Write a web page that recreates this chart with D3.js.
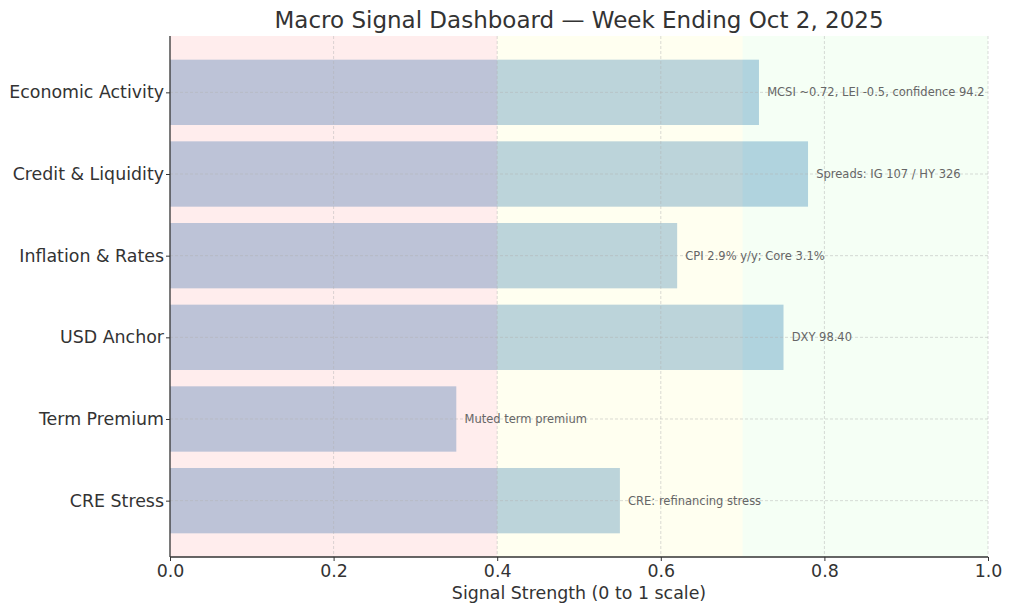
<!DOCTYPE html>
<html><head><meta charset="utf-8">
<script src="https://cdn.jsdelivr.net/npm/d3@7"></script>
<style>body{margin:0;background:#fff}svg{display:block;font-family:"DejaVu Sans",sans-serif}</style>
</head><body><svg id="c" width="1024" height="613"></svg>
<script>
const categories = ["Economic Activity","Credit & Liquidity","Inflation & Rates","USD Anchor","Term Premium","CRE Stress"];
const values = [0.72, 0.78, 0.62, 0.75, 0.35, 0.55];
const notes = ["MCSI ~0.72, LEI -0.5, confidence 94.2","Spreads: IG 107 / HY 326","CPI 2.9% y/y; Core 3.1%","DXY 98.40","Muted term premium","CRE: refinancing stress"];
const xTicks = [0,0.2,0.4,0.6,0.8,1.0];
const bandStarts = [0, 0.4, 0.7];
const bandEnds = [0.4, 0.7, 1.0];
const bandColors = ["#ff0000","#ffff00","#00ff00"];
const bandAlpha = [0.07, 0.06, 0.04];

const svg = d3.select("#c");
const L=170, R=988, T=36, B=557;
const x = d3.scaleLinear().domain([0,1]).range([L,R]);
const y = d3.scaleLinear().domain([-0.69, 5.69]).range([T,B]);
const barH = y(0.8)-y(0);

// bars
svg.append("g").selectAll("rect").data(values).join("rect")
  .attr("x", x(0)).attr("width", d=>x(d)-x(0))
  .attr("y",(d,i)=>y(i)-barH/2).attr("height",barH)
  .attr("fill","#b8d2e8");

// bands on top
svg.append("g").selectAll("rect").data(bandStarts).join("rect")
  .attr("x",d=>x(d)).attr("width",(d,i)=>x(bandEnds[i])-x(d))
  .attr("y",T).attr("height",B-T)
  .attr("fill",(d,i)=>bandColors[i]).attr("fill-opacity",(d,i)=>bandAlpha[i]);

// grid
const g = svg.append("g").attr("stroke","#b0b0b0").attr("stroke-dasharray","3,2").attr("stroke-width",0.8).attr("stroke-opacity",0.6);
g.selectAll(".vx").data(xTicks.slice(1)).join("line")
  .attr("x1",d=>x(d)).attr("x2",d=>x(d)).attr("y1",T).attr("y2",B);
g.selectAll(".hy").data(categories).join("line")
  .attr("x1",L).attr("x2",R).attr("y1",(d,i)=>y(i)).attr("y2",(d,i)=>y(i));

// annotations
svg.append("g").selectAll("text").data(values).join("text")
  .attr("x",d=>x(d+0.01)).attr("y",(d,i)=>y(i)).attr("dy","0.35em")
  .attr("font-size",11.5).attr("fill","#666").text((d,i)=>notes[i]);

// axes
const xAxis = d3.axisBottom(x).tickValues(xTicks).tickFormat(d3.format(".1f")).tickSize(4).tickPadding(4);
const xg = svg.append("g").attr("transform",`translate(0,${B})`).call(xAxis);
xg.select(".domain").attr("stroke","#333").attr("stroke-width",1.3).attr("d",`M${L},0H${R}`);
xg.selectAll(".tick line").attr("stroke","#333");
xg.selectAll(".tick text").attr("font-size",17.4).attr("fill","#333").attr("font-family","DejaVu Sans");

const yAxis = d3.axisLeft(y).tickValues(d3.range(categories.length)).tickFormat(i=>categories[i]).tickSize(4).tickPadding(2);
const yg = svg.append("g").attr("transform",`translate(${L},0)`).call(yAxis);
yg.select(".domain").attr("stroke","#333").attr("stroke-width",1.3).attr("d",`M0,${T}V${B}`);
yg.selectAll(".tick line").attr("stroke","#333");
yg.selectAll(".tick text").attr("font-size",17.4).attr("fill","#333").attr("font-family","DejaVu Sans");

svg.append("text").attr("x",(L+R)/2).attr("y",599).attr("text-anchor","middle")
  .attr("font-size",17.4).attr("fill","#333").text("Signal Strength (0 to 1 scale)");
svg.append("text").attr("x",(L+R)/2).attr("y",28).attr("text-anchor","middle")
  .attr("font-size",23).attr("fill","#333").text("Macro Signal Dashboard — Week Ending Oct 2, 2025");
</script></body></html>
